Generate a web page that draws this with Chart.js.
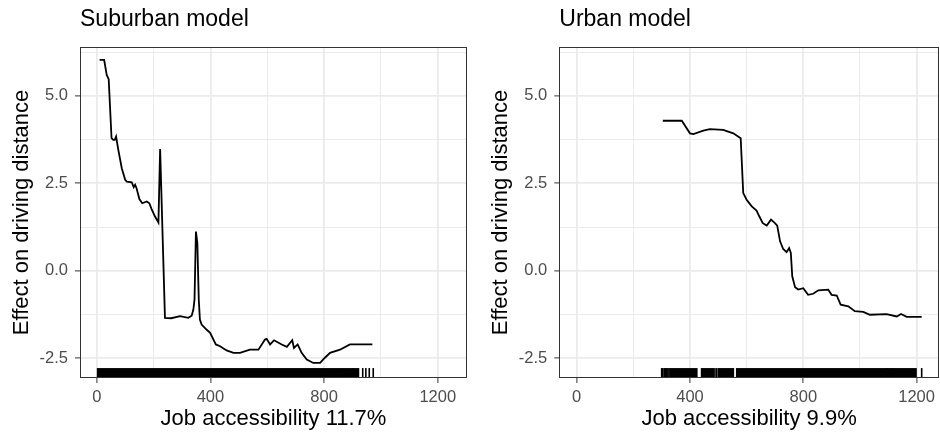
<!DOCTYPE html>
<html>
<head>
<meta charset="utf-8">
<script src="https://cdn.jsdelivr.net/npm/chart.js@4.4.1/dist/chart.umd.min.js"></script>
<style>
  html, body { margin: 0; padding: 0; background: #ffffff; }
  #wrap { position: relative; width: 940px; height: 434px; overflow: hidden; }
  .panel { position: absolute; top: 0; width: 470px; height: 434px; }
</style>
</head>
<body>
<div id="wrap">
  <div class="panel" style="left:0"><canvas id="suburban" width="470" height="434"></canvas></div>
  <div class="panel" style="left:470px"><canvas id="urban" width="470" height="434"></canvas></div>
</div>
<script>
// Partial dependence of driving distance on job accessibility
const suburbanAccess = [10, 26, 35, 42, 52, 58, 63, 68, 76, 88, 100, 106, 123, 130, 135, 140, 150, 160, 176, 185,
  193, 205, 217, 223, 240, 262, 293, 322, 334, 340, 344, 349, 354, 359, 363, 369, 387, 399, 419, 434,
  457, 481, 504, 539, 569, 592, 598, 610, 624, 651, 669, 688, 694, 707, 721, 739, 762, 786, 803, 821,
  856, 891, 970];
const suburbanEffect = [6.03, 6.03, 5.6, 5.48, 3.79, 3.74, 3.74, 3.84, 3.45, 2.93, 2.6, 2.55, 2.53, 2.39, 2.46, 2.36, 2.05, 1.93, 1.98, 1.93,
  1.76, 1.55, 1.38, 3.48, -1.35, -1.36, -1.3, -1.35, -1.29, -1.11, -0.83, 1.12, 0.79, -0.83, -1.4, -1.54, -1.69, -1.78, -2.11, -2.16,
  -2.28, -2.35, -2.35, -2.26, -2.26, -1.97, -1.95, -2.11, -1.99, -2.11, -2.18, -1.99, -2.21, -2.11, -2.35, -2.54, -2.64, -2.64, -2.49, -2.35,
  -2.26, -2.11, -2.11];

const urbanAccess = [304, 371, 400, 412, 447, 470, 517, 553, 579, 588, 600, 618, 635, 645, 657, 671, 686, 700, 708, 718,
  729, 741, 750, 756, 761, 771, 782, 800, 817, 835, 853, 888, 900, 918, 932, 959, 982, 1012, 1035, 1094,
  1130, 1145, 1165, 1218];
const urbanEffect = [4.29, 4.29, 3.93, 3.91, 4.01, 4.05, 4.03, 3.93, 3.79, 2.22, 2.03, 1.84, 1.72, 1.55, 1.36, 1.29, 1.46, 1.36, 1.29, 0.84,
  0.62, 0.53, 0.65, 0.51, -0.16, -0.47, -0.54, -0.5, -0.69, -0.66, -0.56, -0.54, -0.69, -0.71, -0.97, -1.02, -1.16, -1.18, -1.26, -1.24,
  -1.31, -1.24, -1.32, -1.32];

// Observation rug: dense stretches as [from, to], isolated observations as single values
const suburbanRugBands = [[3, 862], [865, 897], [900, 921]];
const suburbanRugTicks = [936, 947, 959, 973];
const urbanRugBands = [[330, 424], [441, 482], [500, 553], [565, 1097], [1099, 1113], [1115, 1198]];
const urbanRugTicks = [300, 304, 309, 313, 318, 322, 326, 488, 494, 1218];

// Axis breaks
const xBreaks = [0, 200, 400, 600, 800, 1000, 1200];
const xLabelled = [0, 400, 800, 1200];
const yBreaks = [-2.5, -1.25, 0, 1.25, 2.5, 3.75, 5, 6.25];
const yLabelled = [-2.5, 0, 2.5, 5];

Chart.defaults.font.family = "'Liberation Sans', Arial, Helvetica, sans-serif";
Chart.defaults.color = '#4d4d4d';

const GRID = '#ebebeb';
const INK = '#333333';

const framePlugin = {
  id: 'panelFrame',
  afterDraw(chart) {
    const a = chart.chartArea, ctx = chart.ctx;
    ctx.save();
    ctx.strokeStyle = INK;
    ctx.lineWidth = 1;
    ctx.strokeRect(Math.round(a.left) + 0.5, Math.round(a.top) + 0.5,
      Math.round(a.right - a.left) - 1, Math.round(a.bottom - a.top) - 1);
    ctx.restore();
  }
};

const rugPlugin = {
  id: 'rug',
  afterDatasetsDraw(chart, args, opts) {
    const xs = chart.scales.x, a = chart.chartArea, ctx = chart.ctx;
    const len = (a.bottom - a.top) * 0.03;
    ctx.save();
    ctx.fillStyle = '#000000';
    (opts.bands || []).forEach(([from, to]) => {
      const p0 = xs.getPixelForValue(from), p1 = xs.getPixelForValue(to);
      ctx.fillRect(p0 - 0.8, a.bottom - len, p1 - p0 + 1.6, len);
    });
    (opts.ticks || []).forEach(v => {
      const p = xs.getPixelForValue(v);
      ctx.fillRect(p - 0.8, a.bottom - len, 1.6, len);
    });
    ctx.restore();
  }
};

function makePanel(id, cfg) {
  const points = cfg.xs.map((x, i) => ({ x, y: cfg.ys[i] }));
  return new Chart(document.getElementById(id), {
    type: 'line',
    data: {
      datasets: [{
        data: points,
        borderColor: '#000000',
        borderWidth: 1.8,
        pointRadius: 0,
        tension: 0,
        fill: false
      }]
    },
    options: {
      responsive: false,
      animation: false,
      devicePixelRatio: 1,
      layout: { padding: { left: 0, right: cfg.rightPad, top: 0, bottom: 0 } },
      plugins: {
        legend: { display: false },
        tooltip: { enabled: false },
        title: {
          display: true,
          text: cfg.title,
          align: 'start',
          fullSize: false,
          color: '#000000',
          font: { size: 23, weight: 'normal' },
          padding: { top: 6, bottom: 13.4 }
        },
        rug: { bands: cfg.rugBands, ticks: cfg.rugTicks }
      },
      scales: {
        x: {
          type: 'linear',
          min: cfg.xMin,
          max: cfg.xMax,
          afterBuildTicks: s => { s.ticks = xBreaks.map(v => ({ value: v })); },
          afterFit: s => { s.height = 56; },
          ticks: {
            autoSkip: false,
            maxRotation: 0,
            padding: 5,
            color: '#4d4d4d',
            font: { size: 16.5 },
            callback: v => (xLabelled.includes(v) ? String(v) : '')
          },
          grid: {
            color: GRID,
            lineWidth: c => (xLabelled.includes(c.tick.value) ? 1.8 : 1),
            tickLength: 5,
            tickWidth: 1,
            tickColor: c => (xLabelled.includes(c.tick.value) ? INK : 'rgba(0,0,0,0)')
          },
          border: { display: false },
          title: {
            display: true,
            text: cfg.xTitle,
            color: '#000000',
            font: { size: 22 },
            padding: { top: 0, bottom: 1.4 }
          }
        },
        y: {
          type: 'linear',
          min: -3.07,
          max: 6.4,
          afterBuildTicks: s => { s.ticks = yBreaks.map(v => ({ value: v })); },
          afterFit: s => { s.width = cfg.yWidth; },
          ticks: {
            autoSkip: false,
            padding: 7,
            color: '#4d4d4d',
            font: { size: 16.5 },
            callback: v => (yLabelled.includes(v) ? v.toFixed(1) : '')
          },
          grid: {
            color: GRID,
            lineWidth: c => (yLabelled.includes(c.tick.value) ? 1.8 : 1),
            tickLength: 5,
            tickWidth: 1,
            tickColor: c => (yLabelled.includes(c.tick.value) ? INK : 'rgba(0,0,0,0)')
          },
          border: { display: false },
          title: {
            display: true,
            text: 'Effect on driving distance',
            color: '#000000',
            font: { size: 22 },
            padding: { top: cfg.yTitlePad, bottom: 0 }
          }
        }
      }
    },
    plugins: [rugPlugin, framePlugin]
  });
}

makePanel('suburban', {
  title: 'Suburban model',
  xTitle: 'Job accessibility 11.7%',
  xs: suburbanAccess, ys: suburbanEffect,
  rugBands: suburbanRugBands, rugTicks: suburbanRugTicks,
  xMin: -59, xMax: 1303, yWidth: 80, yTitlePad: 8.5, rightPad: 3
});

makePanel('urban', {
  title: 'Urban model',
  xTitle: 'Job accessibility 9.9%',
  xs: urbanAccess, ys: urbanEffect,
  rugBands: urbanRugBands, rugTicks: urbanRugTicks,
  xMin: -61.4, xMax: 1279, yWidth: 89.3, yTitlePad: 17.5, rightPad: 1
});
</script>
</body>
</html>
